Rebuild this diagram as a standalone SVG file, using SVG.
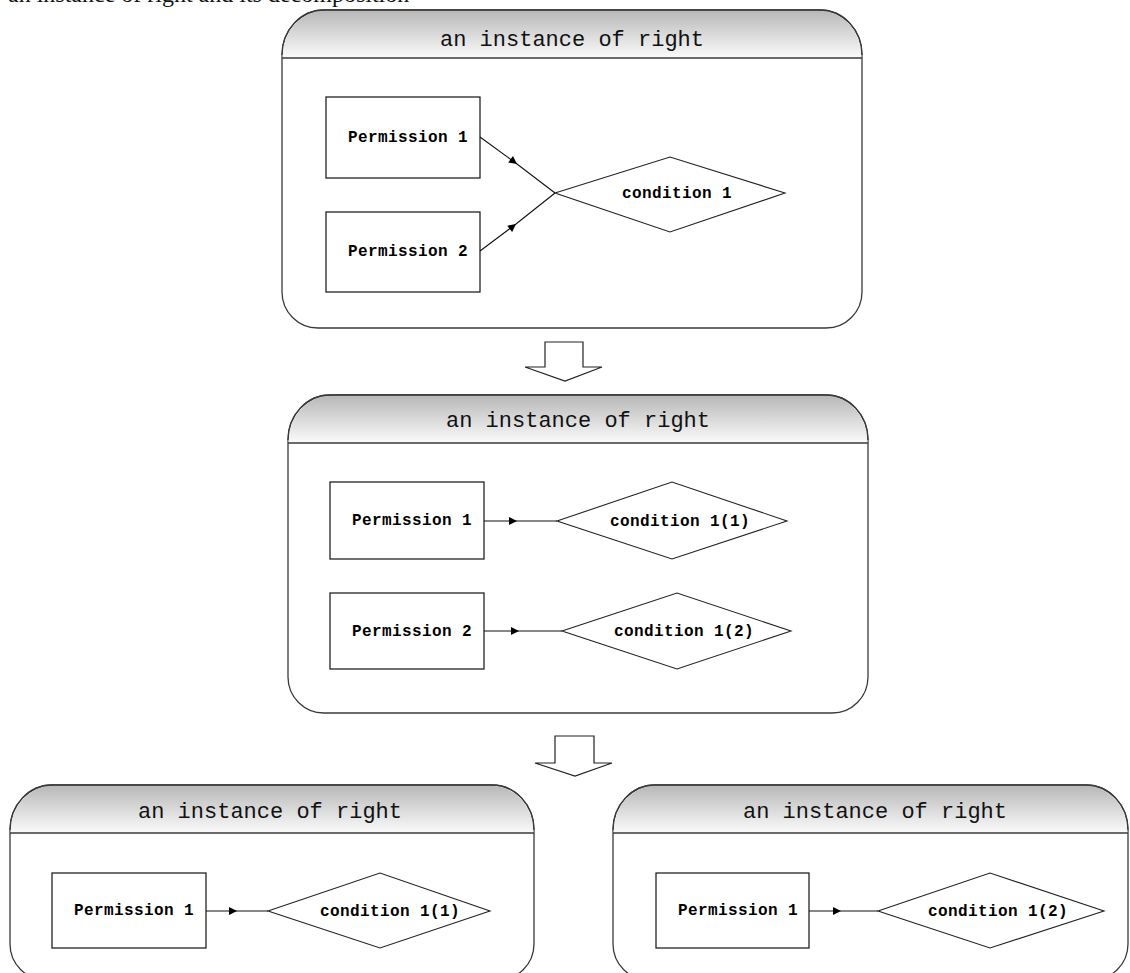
<svg xmlns="http://www.w3.org/2000/svg" width="1130" height="973" viewBox="0 0 1130 973">
  <defs>
    <linearGradient id="hdr" x1="0" y1="0" x2="0" y2="1">
      <stop offset="0" stop-color="#b8b8b8"/>
      <stop offset="1" stop-color="#fbfbfb"/>
    </linearGradient>
    <marker id="tip" viewBox="0 0 10 10" refX="10" refY="5" markerWidth="9" markerHeight="8" markerUnits="userSpaceOnUse" orient="auto">
      <path d="M0,0 L10,5 L0,10 Z" fill="#000"/>
    </marker>
  </defs>
  <style>
    .frame { fill: #fff; stroke: #3a3a3a; stroke-width: 1.3; }
    .head { fill: url(#hdr); stroke: none; }
    .rule { stroke: #3a3a3a; stroke-width: 1.3; }
    .title { font-family: "Liberation Mono", "DejaVu Sans Mono", monospace; font-size: 22px; fill: #111; text-anchor: middle; }
    .box { fill: #fff; stroke: #111; stroke-width: 1.2; }
    .dia { fill: #fff; stroke: #222; stroke-width: 1.1; }
    .lbl { font-family: "Liberation Mono", "DejaVu Sans Mono", monospace; font-size: 16px; font-weight: bold; fill: #000; text-anchor: middle; letter-spacing: 0.4px; }
    .wire { fill: none; stroke: #111; stroke-width: 1.1; marker-mid: url(#tip); }
    .step { fill: #fff; stroke: #222; stroke-width: 1.2; }
    .caption { font-family: "Liberation Serif", "DejaVu Serif", serif; font-size: 24px; fill: #111; }
  </style>

  <!-- caption line running off the top edge -->
  <text class="caption" x="8" y="1.5">an instance of right and its decomposition</text>

  <!-- container 1: original right -->
  <g id="right-original">
    <path class="frame" d="M282,55 A42,45 0 0 1 324,10 H820 A42,45 0 0 1 862,55 V292 A36,36 0 0 1 826,328 H318 A36,36 0 0 1 282,292 Z"/>
    <path class="head" d="M282.7,58 V55 A42,45 0 0 1 324,10.7 H820 A42,45 0 0 1 861.3,55 V58 Z"/>
    <path class="frame" style="fill:none" d="M282,55 A42,45 0 0 1 324,10 H820 A42,45 0 0 1 862,55"/>
    <line class="rule" x1="282" y1="58" x2="862" y2="58"/>
    <text class="title" x="572" y="46">an instance of right</text>
  </g>
  <g id="o-perm1">
    <rect class="box" x="326" y="97" width="154" height="81"/>
    <text class="lbl" x="408" y="142">Permission 1</text>
  </g>
  <g id="o-perm2">
    <rect class="box" x="326" y="212" width="154" height="80"/>
    <text class="lbl" x="408" y="256">Permission 2</text>
  </g>
  <g id="o-cond1">
    <polygon class="dia" points="555,193 670,157 785,193 670,232"/>
    <text class="lbl" x="677" y="198">condition 1</text>
  </g>

  <!-- step arrow 1 -->
  <g id="step-1">
    <polygon class="step" points="545,342 583,342 583,367 602,367 565,381 525,367 545,367"/>
  </g>

  <!-- container 2: split conditions -->
  <g id="right-split">
    <path class="frame" d="M288,440 A42,45 0 0 1 330,395 H826 A42,45 0 0 1 868,440 V677 A36,36 0 0 1 832,713 H324 A36,36 0 0 1 288,677 Z"/>
    <path class="head" d="M288.7,443 V440 A42,45 0 0 1 330,395.7 H826 A42,45 0 0 1 867.3,440 V443 Z"/>
    <path class="frame" style="fill:none" d="M288,440 A42,45 0 0 1 330,395 H826 A42,45 0 0 1 868,440"/>
    <line class="rule" x1="288" y1="443" x2="868" y2="443"/>
    <text class="title" x="578" y="427">an instance of right</text>
  </g>
  <g id="s-perm1">
    <rect class="box" x="330" y="482" width="154" height="77"/>
    <text class="lbl" x="412" y="525">Permission 1</text>
  </g>
  <g id="s-perm2">
    <rect class="box" x="330" y="593" width="154" height="76"/>
    <text class="lbl" x="412" y="636">Permission 2</text>
  </g>
  <g id="s-cond11">
    <polygon class="dia" points="557,521 672,482 787,521 672,559"/>
    <text class="lbl" x="680" y="526">condition 1(1)</text>
  </g>
  <g id="s-cond12">
    <polygon class="dia" points="562,631 677,593 791,631 677,669"/>
    <text class="lbl" x="684" y="636">condition 1(2)</text>
  </g>

  <!-- step arrow 2 -->
  <g id="step-2">
    <polygon class="step" points="555,736 594,736 594,763 612,763 575,776 535,763 555,763"/>
  </g>

  <!-- container 3: first resulting right -->
  <g id="right-a">
    <path class="frame" d="M10,830 A42,45 0 0 1 52,785 H492 A42,45 0 0 1 534,830 V944 A36,36 0 0 1 498,980 H46 A36,36 0 0 1 10,944 Z"/>
    <path class="head" d="M10.7,833 V830 A42,45 0 0 1 52,785.7 H492 A42,45 0 0 1 533.3,830 V833 Z"/>
    <path class="frame" style="fill:none" d="M10,830 A42,45 0 0 1 52,785 H492 A42,45 0 0 1 534,830"/>
    <line class="rule" x1="10" y1="833" x2="534" y2="833"/>
    <text class="title" x="270" y="818">an instance of right</text>
  </g>
  <g id="a-perm1">
    <rect class="box" x="52" y="873" width="154" height="75"/>
    <text class="lbl" x="134" y="915">Permission 1</text>
  </g>
  <g id="a-cond11">
    <polygon class="dia" points="268,911 380,873 490,911 380,948"/>
    <text class="lbl" x="390" y="916">condition 1(1)</text>
  </g>

  <!-- container 4: second resulting right -->
  <g id="right-b">
    <path class="frame" d="M613,830 A42,45 0 0 1 655,785 H1086 A42,45 0 0 1 1128,830 V944 A36,36 0 0 1 1092,980 H649 A36,36 0 0 1 613,944 Z"/>
    <path class="head" d="M613.7,833 V830 A42,45 0 0 1 655,785.7 H1086 A42,45 0 0 1 1127.3,830 V833 Z"/>
    <path class="frame" style="fill:none" d="M613,830 A42,45 0 0 1 655,785 H1086 A42,45 0 0 1 1128,830"/>
    <line class="rule" x1="613" y1="833" x2="1128" y2="833"/>
    <text class="title" x="875" y="818">an instance of right</text>
  </g>
  <g id="b-perm1">
    <rect class="box" x="656" y="873" width="153" height="75"/>
    <text class="lbl" x="738" y="915">Permission 1</text>
  </g>
  <g id="b-cond12">
    <polygon class="dia" points="878,911 990,873 1104,911 990,948"/>
    <text class="lbl" x="998" y="916">condition 1(2)</text>
  </g>

  <!-- connectors: permission to condition, arrowhead mid-way -->
  <g id="connectors">
    <path class="wire" d="M480,137 L517,164 L555,193"/>
    <path class="wire" d="M480,251 L516,224 L555,193"/>
    <path class="wire" d="M484,521 L517,521 L557,521"/>
    <path class="wire" d="M484,631 L519,631 L562,631"/>
    <path class="wire" d="M206,911 L237,911 L268,911"/>
    <path class="wire" d="M809,911 L841,911 L878,911"/>
  </g>
</svg>
